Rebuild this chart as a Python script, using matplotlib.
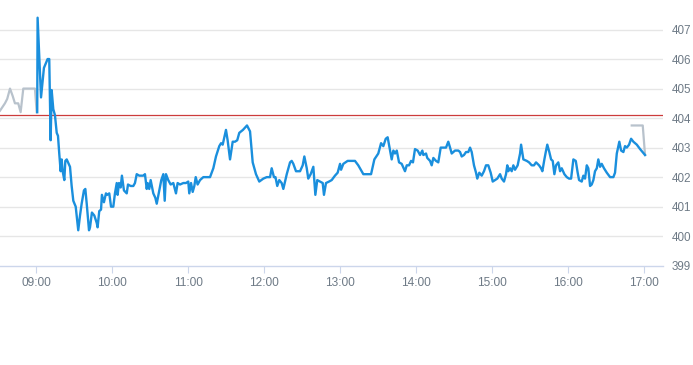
import matplotlib
matplotlib.use("Agg")
import matplotlib.pyplot as plt

plt.rcParams["font.family"] = ["Liberation Sans", "DejaVu Sans"]

# minutes after 09:00 and price for the regular session (blue)
reg_minutes = [0.6, 0.9, 3.6, 5.9, 8.8, 10.1, 11.2, 12.0, 13.3, 14.6, 16.0, 17.0, 18.0, 19.1, 19.9,
               20.7, 22.0, 22.8, 23.9, 26.5, 27.8, 29.1, 31.0, 33.0, 34.4, 35.7, 37.5, 38.6, 39.7,
               41.5, 42.3, 43.8, 45.7, 47.6, 48.3, 49.6, 51.0, 51.7, 53.3, 54.9, 55.9, 57.5, 58.9,
               60.7, 62.0, 63.4, 64.1, 65.2, 66.5, 67.5, 69.1, 71.3, 72.3, 74.4, 76.5, 77.8, 79.2,
               81.2, 84.4, 85.7, 87.1, 87.8, 89.1, 90.2, 92.3, 93.9, 95.0, 97.0, 98.6, 100.2, 101.3,
               102.3, 104.1, 106.0, 108.1, 110.2, 111.5, 113.4, 116.0, 118.1, 119.9, 120.7, 122.1,
               123.4, 124.7, 125.8, 127.3, 129.2, 131.8, 137.1, 139.7, 141.8, 144.4, 145.8, 147.1,
               149.7, 151.0, 152.9, 155.0, 156.8, 158.6, 160.2, 163.1, 166.3, 168.7, 170.8, 173.4,
               176.0, 179.2, 181.9, 184.5, 185.8, 187.6, 188.8, 190.2, 191.8, 193.7, 195.0, 197.7,
               200.3, 201.6, 202.9, 205.0, 208.2, 210.3, 211.6, 213.5, 214.7, 216.6, 218.7, 220.3,
               221.8, 224.0, 226.1, 227.1, 228.7, 231.1, 233.2, 235.8, 237.9, 239.8, 240.6, 242.4,
               245.8, 251.6, 254.2, 258.2, 264.3, 266.9, 270.0, 272.2, 274.0, 275.9, 277.4, 279.3,
               280.6, 281.9, 283.2, 284.6, 286.4, 288.5, 291.1, 292.5, 294.3, 295.9, 297.4, 299.0,
               301.1, 303.0, 304.8, 305.6, 307.7, 308.7, 310.9, 312.2, 313.5, 315.6, 317.4, 319.3,
               321.9, 323.5, 325.3, 326.7, 328.0, 330.6, 333.2, 334.6, 335.9, 337.7, 339.3, 341.1,
               342.5, 343.8, 345.6, 347.2, 348.2, 349.8, 351.7, 353.5, 355.1, 356.9, 358.8, 360.4,
               362.2, 364.0, 366.2, 367.5, 369.3, 370.9, 371.9, 372.7, 374.1, 375.4, 376.7, 378.0,
               380.1, 382.0, 382.8, 384.6, 387.3, 389.1, 391.2, 393.0, 394.6, 397.0, 398.6, 399.6,
               401.2, 402.3, 403.5, 405.1, 406.5, 407.8, 409.1, 410.4, 412.2, 413.6, 414.9, 417.0,
               418.9, 420.7, 422.3, 424.1, 426.0, 427.5, 428.6, 430.7, 432.0, 433.3, 434.7, 435.9,
               437.3, 438.6, 439.9, 441.2, 442.6, 443.8, 445.2, 446.5, 448.3, 450.5, 453.1, 455.7,
               457.0, 458.4, 460.4, 461.8, 463.6, 464.9, 466.3, 468.1, 469.7, 471.5, 474.2, 476.8,
               480.7]
reg_prices = [404.2, 407.4, 404.7, 405.7, 406.0, 406.0, 403.25, 404.95, 404.3, 404.1, 403.5, 403.4,
              402.8, 402.2, 402.6, 402.2, 401.9, 402.55, 402.6, 402.35, 401.7, 401.2, 401.0, 400.2,
              400.7, 401.1, 401.55, 401.6, 401.1, 400.2, 400.3, 400.8, 400.7, 400.45, 400.3, 400.85,
              400.9, 401.4, 401.15, 401.45, 401.4, 401.45, 401.0, 401.0, 401.45, 401.8, 401.4, 401.8,
              401.65, 402.05, 401.55, 401.45, 401.75, 401.7, 401.7, 401.8, 402.1, 402.05, 402.05,
              402.1, 401.6, 401.8, 401.6, 401.9, 401.45, 401.3, 401.1, 401.55, 401.9, 402.1, 401.2,
              402.1, 401.9, 401.75, 401.8, 401.45, 401.8, 401.75, 401.8, 401.8, 401.85, 401.45,
              401.8, 401.5, 401.7, 402.0, 401.75, 401.9, 402.0, 402.0, 402.3, 402.7, 403.05, 403.15,
              403.1, 403.6, 403.25, 402.6, 403.2, 403.2, 403.25, 403.5, 403.6, 403.75, 403.55, 402.5,
              402.1, 401.85, 401.95, 402.0, 402.0, 402.3, 402.0, 402.0, 401.7, 401.9, 401.8, 401.6,
              402.1, 402.5, 402.55, 402.45, 402.2, 402.2, 402.4, 402.7, 402.3, 401.95, 402.1, 402.35,
              401.4, 401.9, 401.85, 401.8, 401.4, 401.8, 401.85, 401.9, 402.05, 402.15, 402.45,
              402.25, 402.45, 402.55, 402.55, 402.4, 402.1, 402.1, 402.6, 402.8, 403.15, 403.05,
              403.3, 403.35, 402.9, 402.6, 402.9, 402.8, 402.9, 402.5, 402.45, 402.2, 402.4, 402.4,
              402.55, 402.5, 402.95, 402.9, 402.75, 402.9, 402.75, 402.8, 402.65, 402.55, 402.4,
              402.65, 402.55, 402.5, 403.0, 403.0, 403.0, 403.2, 403.0, 402.8, 402.9, 402.9, 402.85,
              402.7, 402.75, 402.85, 402.85, 403.0, 402.85, 402.4, 402.15, 401.95, 402.15, 402.05,
              402.2, 402.4, 402.4, 402.15, 401.85, 401.9, 401.95, 402.1, 401.95, 401.85, 402.1,
              402.4, 402.2, 402.3, 402.2, 402.4, 402.25, 402.4, 402.8, 403.1, 402.6, 402.55, 402.5,
              402.4, 402.4, 402.5, 402.4, 402.3, 402.2, 402.6, 402.85, 403.1, 402.85, 402.6, 402.55,
              402.1, 402.4, 402.5, 402.2, 402.3, 402.1, 402.0, 401.95, 401.95, 402.6, 402.55, 402.15,
              401.9, 401.85, 402.05, 401.95, 402.4, 402.3, 401.7, 401.75, 401.9, 402.2, 402.3, 402.6,
              402.35, 402.45, 402.3, 402.15, 402.0, 402.0, 402.15, 402.8, 403.2, 402.9, 402.85,
              403.05, 403.0, 403.1, 403.3, 403.2, 403.1, 402.95, 402.75]

# extended hours (grey)
pre_minutes = [-28.8, -24.9, -23.1, -20.9, -18.8, -17.0, -14.4, -12.5, -10.4, -1.2, 0.2]
pre_prices = [404.25, 404.5, 404.65, 405.0, 404.75, 404.5, 404.5, 404.2, 405.0, 405.0, 404.2]
post_minutes = [470.2, 478.9, 480.7]
post_prices = [403.75, 403.75, 402.75]

reference_price = 404.1
y_ticks = [399, 400, 401, 402, 403, 404, 405, 406, 407]
x_tick_hours = [9, 10, 11, 12, 13, 14, 15, 16, 17]
x_tick_labels = ["09:00", "10:00", "11:00", "12:00", "13:00", "14:00", "15:00", "16:00", "17:00"]

def to_hours(mins):
    return [9 + m / 60.0 for m in mins]

W, H = 693, 365
fig = plt.figure(figsize=(W / 100, H / 100), dpi=100)
ax_bottom_px = 265.7
ax = fig.add_axes([0, 1 - ax_bottom_px / H, 663 / W, ax_bottom_px / H])

grid_c = "#e6e6e6"
axis_c = "#ccd6eb"
label_c = "#6e7a86"

for v in y_ticks[1:]:
    ax.axhline(v, color=grid_c, lw=1.0, zorder=1)

ax.axhline(reference_price, color="#cc3b3b", lw=0.9, zorder=2)

ax.plot(to_hours(pre_minutes), pre_prices, color="#b8c2cc", lw=1.6, zorder=3,
        solid_joinstyle="round")
ax.plot(to_hours(post_minutes), post_prices, color="#b8c2cc", lw=1.6, zorder=3,
        solid_joinstyle="round")
ax.plot(to_hours(reg_minutes), reg_prices, color="#1a8fdd", lw=1.7, zorder=4,
        solid_joinstyle="round")

ax.set_xlim(9 - 28.8 / 60, 9 + 494.9 / 60)
ax.set_ylim(399, 408.0)

for s in ["top", "left", "right"]:
    ax.spines[s].set_visible(False)
ax.spines["bottom"].set_color(axis_c)
ax.spines["bottom"].set_linewidth(1.0)

ax.set_xticks(x_tick_hours)
ax.set_xticklabels(x_tick_labels)
ax.tick_params(axis="x", length=5, width=0.8, color=axis_c, pad=3,
               labelsize=8.6, labelcolor=label_c)

ax.yaxis.tick_right()
ax.set_yticks(y_ticks)
ax.set_yticklabels([str(v) for v in y_ticks])
ax.tick_params(axis="y", length=0, pad=6.3, labelsize=8.4, labelcolor=label_c)

fig.savefig("out.png", dpi=100, facecolor="white")
